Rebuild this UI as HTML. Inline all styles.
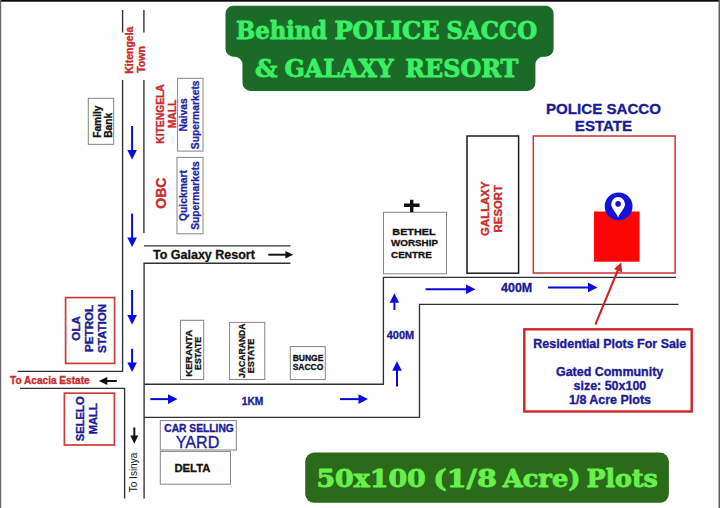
<!DOCTYPE html>
<html lang="en">
<head>
<meta charset="utf-8">
<title>Behind POLICE SACCO &amp; GALAXY RESORT</title>
<style>
html,body{margin:0;padding:0;background:#fff;}
body{width:720px;height:508px;overflow:hidden;position:relative;}
svg{display:block;position:absolute;left:0;top:0;}
text{font-family:"Liberation Sans",sans-serif;font-weight:bold;}
.ttl text{font-family:"DejaVu Serif Condensed","DejaVu Serif","Liberation Serif",serif;font-weight:bold;stroke-width:.8;stroke-linejoin:round;}
.bl{fill:#1b1b96;stroke:#1b1b96;stroke-width:.35;}
.bl2{fill:#2222a8;stroke:#2222a8;stroke-width:.25;}
.rd{fill:#ca2a2c;stroke:#ca2a2c;stroke-width:.35;}
.bk{fill:#111;stroke:#111;stroke-width:.3;}
.road{stroke:#303030;stroke-width:1.35;fill:none;}
.ba{stroke:#0a0ad8;stroke-width:2;fill:none;}
.bh{fill:#0a0ae6;}
.gb{fill:#fff;stroke:#858585;stroke-width:1;}
</style>
</head>
<body>
<svg width="720" height="508" viewBox="0 0 720 508">
<rect x="0" y="0" width="720" height="508" fill="#fff"/>
<!-- frame -->
<rect x="0" y="0" width="720" height="1.7" fill="#0a0a0a"/>
<rect x="0" y="0" width="1.2" height="508" fill="#666"/>
<rect x="718.5" y="0" width="1.5" height="508" fill="#5e5e5e"/>

<!-- title -->
<path d="M233.5 5.7 H545.6 a8 8 0 0 1 8 8 V48.7 a8 8 0 0 1 -8 8 H543.4 a8 8 0 0 0 -8 8 V82.9 a8 8 0 0 1 -8 8 H250.5 a8 8 0 0 1 -8 -8 V64.7 a8 8 0 0 0 -8 -8 H233.5 a8 8 0 0 1 -8 -8 V13.7 a8 8 0 0 1 8 -8 Z" fill="#1b6a28"/>
<g class="ttl" font-size="24.6" fill="#3af064" stroke="#3af064">
<text x="236" y="38.8" textLength="91.2" lengthAdjust="spacingAndGlyphs">Behind</text>
<text x="334.4" y="38.8" textLength="105.4" lengthAdjust="spacingAndGlyphs">POLICE</text>
<text x="446.6" y="38.8" textLength="90.6" lengthAdjust="spacingAndGlyphs">SACCO</text>
<text x="255" y="76.8" textLength="22.5" lengthAdjust="spacingAndGlyphs">&amp;</text>
<text x="284.6" y="76.8" textLength="109.2" lengthAdjust="spacingAndGlyphs">GALAXY</text>
<text x="405.3" y="76.8" textLength="113" lengthAdjust="spacingAndGlyphs">RESORT</text>
</g>

<!-- bottom banner -->
<rect x="305.2" y="452.6" width="363.7" height="50.2" rx="9" ry="9" fill="#2a6a1a"/>
<g class="ttl" font-size="24.8" fill="#68f04c" stroke="#68f04c">
<text x="316.4" y="487" textLength="109.4" lengthAdjust="spacingAndGlyphs">50x100</text>
<text x="433.2" y="487" textLength="63.6" lengthAdjust="spacingAndGlyphs">(1/8</text>
<text x="502.7" y="487" textLength="77.8" lengthAdjust="spacingAndGlyphs">Acre)</text>
<text x="586.4" y="487" textLength="71.4" lengthAdjust="spacingAndGlyphs">Plots</text>
</g>

<!-- roads -->
<g class="road">
<path d="M122.6 10 V32.5 M143.9 10 V32.5"/>
<path d="M122.6 80 V371.3 H17.5"/>
<path d="M143.9 80 V233"/>
<path d="M143.9 245.8 H290.5"/>
<path d="M290.5 263.2 H144.1 V498.5"/>
<path d="M20 388.3 H124.6 V498.5"/>
<path d="M144.1 384.2 H383.4 V277.3 H676"/>
<path d="M144.1 417.4 H419.5 V304.4 H678.5"/>
</g>

<!-- blue arrows -->
<g class="ba">
<path d="M132.1 126 V152"/><path d="M132.1 213.6 V239"/><path d="M132.1 290 V316"/><path d="M132.1 348.8 V364"/>
<path d="M150.3 399.1 H170"/><path d="M340 399.1 H360"/>
<path d="M397 386.4 V369"/><path d="M394.4 310 V301"/>
<path d="M425.6 289.3 H467"/><path d="M548 287.4 H589"/>
</g>
<g class="bh">
<path d="M127.3 150 H136.9 L132.1 159.5 Z"/>
<path d="M127.3 237.5 H136.9 L132.1 247 Z"/>
<path d="M127.3 315 H136.9 L132.1 324.5 Z"/>
<path d="M127.3 362.5 H136.9 L132.1 372 Z"/>
<path d="M168 394.3 V403.9 L177.5 399.1 Z"/>
<path d="M358.5 394.3 V403.9 L368 399.1 Z"/>
<path d="M392.2 370.8 H401.8 L397 361.3 Z"/>
<path d="M389.6 302.8 H399.2 L394.4 293.3 Z"/>
<path d="M466 284.5 V294.1 L475.5 289.3 Z"/>
<path d="M588 282.6 V292.2 L597.5 287.4 Z"/>
</g>

<!-- black arrows -->
<g stroke="#151515" stroke-width="2" fill="none">
<path d="M268.3 254.7 H286"/><path d="M116.8 381 H105"/><path d="M134.3 427.5 V437"/>
</g>
<g fill="#111">
<path d="M285.4 251 V258.4 L293.2 254.7 Z"/>
<path d="M107.3 377 V385 L98.8 381 Z"/>
<path d="M130.3 435.5 H138.3 L134.3 443.8 Z"/>
</g>

<!-- Kitengela Town -->
<text class="rd" font-size="10.5" transform="translate(133.2,73.8) rotate(-90)">Kitengela</text>
<text class="rd" font-size="10.5" transform="translate(144.8,72.8) rotate(-90)">Town</text>

<!-- Family bank -->
<rect class="gb" x="88.3" y="98.3" width="25.4" height="46"/>
<text class="bk" font-size="10.2" transform="translate(101,137.8) rotate(-90)">Family</text>
<text class="bk" font-size="10.2" transform="translate(112.4,137.8) rotate(-90)">Bank</text>

<!-- Kitengela Mall -->
<text class="rd" font-size="10.3" text-anchor="middle" transform="translate(163.6,114) rotate(-90)">KITENGELA</text>
<text class="rd" font-size="10.3" text-anchor="middle" transform="translate(175.6,114) rotate(-90)">MALL</text>
<text class="rd" font-size="14" text-anchor="middle" transform="translate(165.8,193.2) rotate(-90)">OBC</text>

<!-- Naivas -->
<rect class="gb" x="177.6" y="78.3" width="25.4" height="72.8"/>
<text class="bl2" font-size="10.3" text-anchor="middle" transform="translate(186.7,114.8) rotate(-90)">Naivas</text>
<text class="bl2" font-size="10.3" text-anchor="middle" transform="translate(198.6,114.8) rotate(-90)">Supermarkets</text>
<!-- Quickmart -->
<rect class="gb" x="177" y="157.4" width="26" height="76.4"/>
<text class="bl2" font-size="10.3" text-anchor="middle" transform="translate(187.2,195.5) rotate(-90)">Quickmart</text>
<text class="bl2" font-size="10.3" text-anchor="middle" transform="translate(199.1,195.5) rotate(-90)">Supermarkets</text>

<!-- To Galaxy Resort -->
<text class="bk" font-size="12.5" x="153" y="259.4">To Galaxy Resort</text>

<!-- OLA -->
<rect x="65.6" y="297.6" width="49" height="65.8" fill="#fff" stroke="#cf3a3a" stroke-width="1.7"/>
<text class="bl" font-size="11.6" text-anchor="middle" transform="translate(79.7,328.4) rotate(-90)">OLA</text>
<text class="bl" font-size="11.6" text-anchor="middle" transform="translate(92.7,328.4) rotate(-90)">PETROL</text>
<text class="bl" font-size="11.6" text-anchor="middle" transform="translate(106,328.4) rotate(-90)">STATION</text>

<text class="rd" font-size="10.1" x="10" y="383.6">To Acacia Estate</text>

<!-- SELELO -->
<rect x="64.4" y="393.2" width="50" height="51.8" fill="#fff" stroke="#cf3a3a" stroke-width="1.7"/>
<text class="bl" font-size="11.2" text-anchor="middle" transform="translate(84,418.8) rotate(-90)">SELELO</text>
<text class="bl" font-size="11.2" text-anchor="middle" transform="translate(97.2,418.8) rotate(-90)">MALL</text>

<text font-size="10" style="font-weight:normal" fill="#111" text-anchor="middle" transform="translate(137.3,472.5) rotate(-90)">To Isinya</text>

<!-- estates -->
<rect class="gb" x="180.5" y="320.3" width="23.2" height="59.2"/>
<text class="bk" font-size="9.8" text-anchor="middle" transform="translate(192,353.2) rotate(-90)">KERANTA</text>
<text class="bk" font-size="8.7" text-anchor="middle" transform="translate(200.8,353.4) rotate(-90)">ESTATE</text>
<rect class="gb" x="229.6" y="322.4" width="35.2" height="57.1"/>
<text class="bk" font-size="8.6" text-anchor="middle" transform="translate(244.5,350.7) rotate(-90)">JACARANDA</text>
<text class="bk" font-size="9.1" text-anchor="middle" transform="translate(253.5,356) rotate(-90)">ESTATE</text>
<rect class="gb" x="290.3" y="346.6" width="35" height="33"/>
<text class="bk" font-size="8.5" text-anchor="middle" x="308" y="360.9">BUNGE</text>
<text class="bk" font-size="8.5" text-anchor="middle" x="308" y="370.1">SACCO</text>

<text class="bl" font-size="11.3" x="241.8" y="404.9" textLength="21.6" lengthAdjust="spacingAndGlyphs">1KM</text>

<!-- car selling -->
<rect class="gb" x="160.3" y="420.6" width="76" height="29.4"/>
<text class="bl" font-size="10.25" x="164.3" y="431.9">CAR SELLING</text>
<text class="bl" font-size="16.1" style="font-weight:normal" x="175.8" y="447.6">YARD</text>
<rect class="gb" x="160.3" y="451.4" width="70.2" height="32.8"/>
<text class="bk" font-size="11.3" x="174.4" y="472.2">DELTA</text>

<!-- bethel -->
<rect class="gb" x="383.5" y="212.3" width="63" height="61.5"/>
<path d="M411.7 199.8 V212 M404 205.3 H419.6" stroke="#111" stroke-width="3.4" fill="none"/>
<text class="bk" font-size="9.9" x="392.3" y="234.5" textLength="43.4" lengthAdjust="spacingAndGlyphs">BETHEL</text>
<text class="bk" font-size="9.9" x="391" y="246.1" textLength="47" lengthAdjust="spacingAndGlyphs">WORSHIP</text>
<text class="bk" font-size="9.9" x="391" y="258.2" textLength="40.8" lengthAdjust="spacingAndGlyphs">CENTRE</text>

<!-- gallaxy -->
<rect x="467" y="136" width="51.6" height="137.2" fill="#fff" stroke="#1c1c1c" stroke-width="1.5"/>
<text class="rd" font-size="11.4" text-anchor="middle" transform="translate(489,208.7) rotate(-90)">GALLAXY</text>
<text class="rd" font-size="11.4" text-anchor="middle" transform="translate(502.4,208.7) rotate(-90)">RESORT</text>

<!-- 400M -->
<text class="bl" font-size="12.5" x="501" y="292">400M</text>
<text class="bl" font-size="11" x="386.7" y="338.6">400M</text>

<!-- police sacco estate -->
<text class="bl" font-size="15.1" text-anchor="middle" x="603.5" y="114.2">POLICE SACCO</text>
<text class="bl" font-size="15.1" text-anchor="middle" x="603.5" y="130.8">ESTATE</text>
<rect x="533.3" y="136" width="141.8" height="137" fill="#fff" stroke="#cc3333" stroke-width="1.5"/>
<rect x="594" y="211.5" width="45.6" height="50.2" fill="#fb0505"/>
<circle cx="618.6" cy="206.4" r="13.9" fill="#1414d8"/>
<path d="M618.1 217.4 C616.5 213 611.2 208.5 611.2 204 a6.9 6.9 0 0 1 13.8 0 C625 208.5 619.7 213 618.1 217.4 Z" fill="#fff"/>
<circle cx="618.1" cy="203.9" r="2.8" fill="#1414d8"/>

<!-- red pointer -->
<path d="M595.4 324.5 L619.6 266" stroke="#cc2222" stroke-width="2" fill="none"/>
<path d="M621.2 262.6 L622.2 272.4 L614 269 Z" fill="#cc2222"/>

<!-- info box -->
<rect x="524.3" y="329.3" width="167.4" height="82.2" fill="#fff" stroke="#d02525" stroke-width="2.4"/>
<text class="bl" font-size="12.46" text-anchor="middle" x="609.8" y="347.9">Residential Plots For Sale</text>
<text class="bl" font-size="12.46" text-anchor="middle" x="609.6" y="376.2">Gated Community</text>
<text class="bl" font-size="12.46" text-anchor="middle" x="609.9" y="390.2">size: 50x100</text>
<text class="bl" font-size="12.46" text-anchor="middle" x="610" y="403.9">1/8 Acre Plots</text>
</svg>
</body>
</html>
